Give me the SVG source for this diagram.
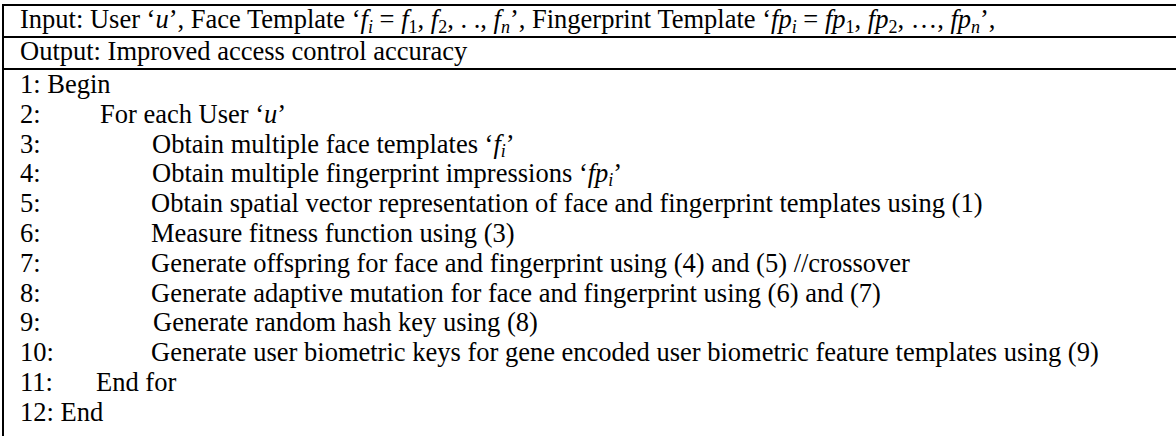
<svg xmlns="http://www.w3.org/2000/svg" width="1176" height="436" viewBox="0 0 1176 436">
  <style>
    .t { font-family: "Liberation Serif", "Times New Roman", serif; font-size: 26.5px; fill: #000; }
    .m { font-style: italic; }
    .s { font-size: 18px; }
    .si { font-size: 18px; font-style: italic; }
    .rule { stroke: #000; stroke-width: 2; fill: none; }
  </style>
  <rect width="1176" height="436" fill="#fff"/>

  <!-- table frame: three horizontal rules and the left edge -->
  <g id="frame">
    <line class="rule" x1="3" y1="5" x2="1176" y2="5"/>
    <line class="rule" x1="3" y1="37" x2="1176" y2="37"/>
    <line class="rule" x1="3" y1="69" x2="1176" y2="69"/>
    <line class="rule" x1="3" y1="4" x2="3" y2="436"/>
  </g>

  <!-- input row -->
  <g id="input-row">
    <text class="t" x="20" y="28">Input: User ‘<tspan class="m">u</tspan>’, Face Template ‘<tspan class="m">f</tspan><tspan class="si" dy="5">i</tspan><tspan dy="-5"> =  </tspan><tspan class="m">f</tspan><tspan class="s" dy="5">1</tspan><tspan dy="-5">, </tspan><tspan class="m">f</tspan><tspan class="s" dy="5">2</tspan><tspan dy="-5">, . ., </tspan><tspan class="m">f</tspan><tspan class="si" dy="5">n</tspan><tspan dy="-5">’, Fingerprint Template ‘</tspan><tspan class="m">fp</tspan><tspan class="si" dy="5">i</tspan><tspan dy="-5"> =  </tspan><tspan class="m">fp</tspan><tspan class="s" dy="5">1</tspan><tspan dy="-5">, </tspan><tspan class="m">fp</tspan><tspan class="s" dy="5">2</tspan><tspan dy="-5">, …, </tspan><tspan class="m">fp</tspan><tspan class="si" dy="5">n</tspan><tspan dy="-5">’,</tspan></text>
  </g>

  <!-- output row -->
  <g id="output-row">
    <text class="t" x="20" y="60">Output: Improved access control accuracy</text>
  </g>

  <!-- algorithm steps -->
  <g id="steps">
    <g id="step-1"><text class="t" x="20" y="93">1: Begin</text></g>
    <g id="step-2"><text class="t" x="20" y="123">2:</text><text class="t" x="100" y="123">For each User ‘<tspan class="m">u</tspan>’</text></g>
    <g id="step-3"><text class="t" x="20" y="152.6">3:</text><text class="t" x="152" y="152.6">Obtain multiple face templates ‘<tspan class="m">f</tspan><tspan class="si" dy="4">i</tspan><tspan dy="-4">’</tspan></text></g>
    <g id="step-4"><text class="t" x="20" y="182.4">4:</text><text class="t" x="152" y="182.4">Obtain multiple fingerprint impressions ‘<tspan class="m">fp</tspan><tspan class="si" dy="4">i</tspan><tspan dy="-4">’</tspan></text></g>
    <g id="step-5"><text class="t" x="20" y="212.2">5:</text><text class="t" x="151" y="212.2">Obtain spatial vector representation of face and fingerprint templates using (1)</text></g>
    <g id="step-6"><text class="t" x="20" y="242">6:</text><text class="t" x="151" y="242">Measure fitness function using (3)</text></g>
    <g id="step-7"><text class="t" x="20" y="271.8">7:</text><text class="t" x="151" y="271.8">Generate offspring for face and fingerprint using (4) and (5) //crossover</text></g>
    <g id="step-8"><text class="t" x="20" y="301.6">8:</text><text class="t" x="151" y="301.6">Generate adaptive mutation for face and fingerprint using (6) and (7)</text></g>
    <g id="step-9"><text class="t" x="20" y="331.4">9:</text><text class="t" x="153" y="331.4">Generate random hash key using (8)</text></g>
    <g id="step-10"><text class="t" x="20" y="361.2">10:</text><text class="t" x="151" y="361.2">Generate user biometric keys for gene encoded user biometric feature templates using (9)</text></g>
    <g id="step-11"><text class="t" x="20" y="391">11:</text><text class="t" x="96" y="391">End for</text></g>
    <g id="step-12"><text class="t" x="20" y="420.8">12: End</text></g>
  </g>
</svg>
